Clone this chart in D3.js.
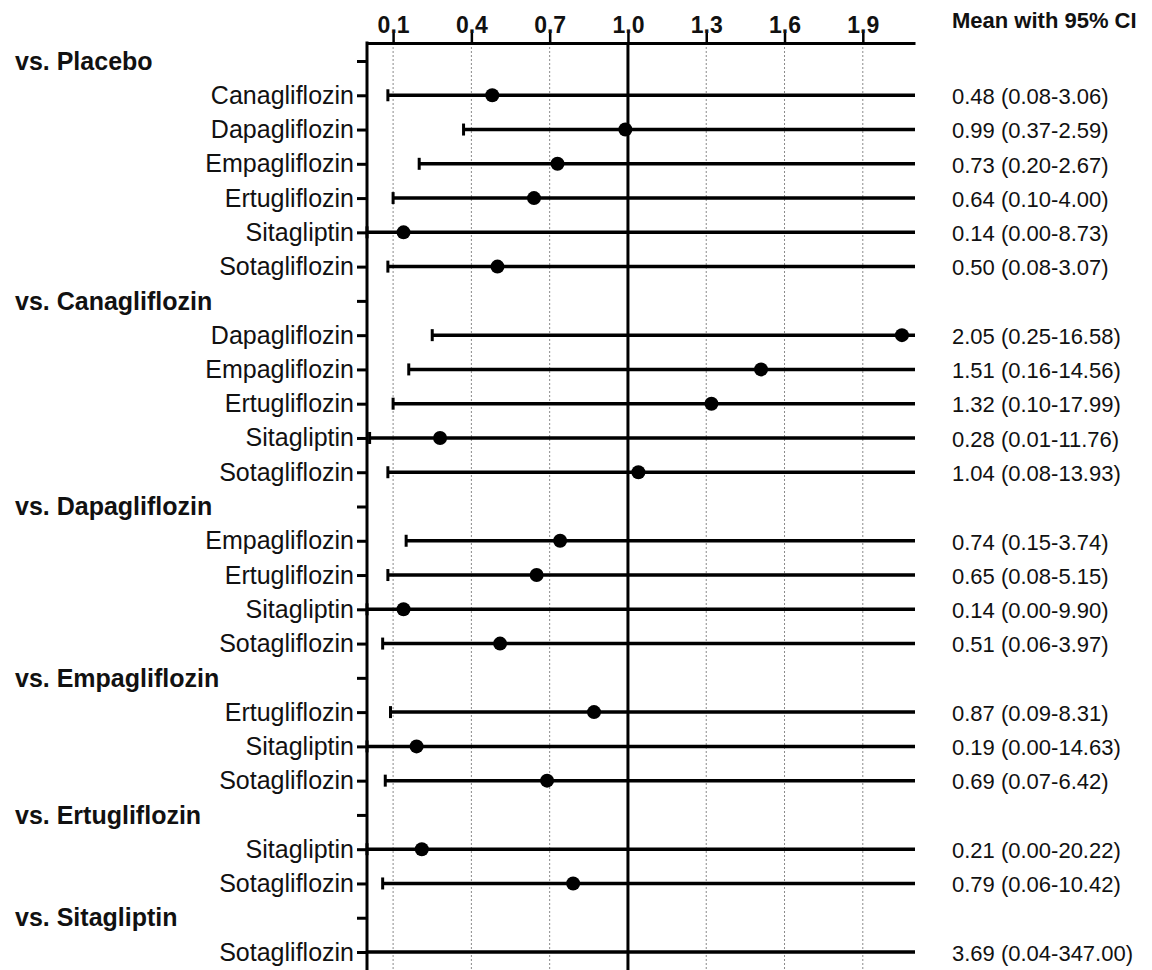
<!DOCTYPE html>
<html>
<head>
<meta charset="utf-8">
<script src="https://cdn.jsdelivr.net/npm/d3@7"></script>
<style>
  body { margin: 0; background: #fff; }
  svg { display: block; font-family: "Liberation Sans", Arial, sans-serif; }
</style>
</head>
<body>
<script>
// comparisons, one group per reference drug
var groups = ["vs. Placebo", "vs. Canagliflozin", "vs. Dapagliflozin", "vs. Empagliflozin", "vs. Ertugliflozin", "vs. Sitagliptin"];
var drugs = [
  ["Canagliflozin", "Dapagliflozin", "Empagliflozin", "Ertugliflozin", "Sitagliptin", "Sotagliflozin"],
  ["Dapagliflozin", "Empagliflozin", "Ertugliflozin", "Sitagliptin", "Sotagliflozin"],
  ["Empagliflozin", "Ertugliflozin", "Sitagliptin", "Sotagliflozin"],
  ["Ertugliflozin", "Sitagliptin", "Sotagliflozin"],
  ["Sitagliptin", "Sotagliflozin"],
  ["Sotagliflozin"]
];
var means = [
  [0.48, 0.99, 0.73, 0.64, 0.14, 0.50],
  [2.05, 1.51, 1.32, 0.28, 1.04],
  [0.74, 0.65, 0.14, 0.51],
  [0.87, 0.19, 0.69],
  [0.21, 0.79],
  [3.69]
];
var lower = [
  [0.08, 0.37, 0.20, 0.10, 0.00, 0.08],
  [0.25, 0.16, 0.10, 0.01, 0.08],
  [0.15, 0.08, 0.00, 0.06],
  [0.09, 0.00, 0.07],
  [0.00, 0.06],
  [0.04]
];
var upper = [
  [3.06, 2.59, 2.67, 4.00, 8.73, 3.07],
  [16.58, 14.56, 17.99, 11.76, 13.93],
  [3.74, 5.15, 9.90, 3.97],
  [8.31, 14.63, 6.42],
  [20.22, 10.42],
  [347.00]
];
var xTicks = [0.1, 0.4, 0.7, 1.0, 1.3, 1.6, 1.9];

var width = 1152, height = 970;

// flatten into rows: header row, then one row per drug
var rows = [];
groups.forEach(function(g, gi) {
  rows.push({id: "g" + gi, header: true, label: g});
  drugs[gi].forEach(function(d, di) {
    rows.push({id: "g" + gi + "d" + di, header: false, label: d,
      mean: means[gi][di], lo: lower[gi][di], hi: upper[gi][di]});
  });
});

var svg = d3.select("body").append("svg")
    .attr("width", width).attr("height", height);

var xMax = 2.1;
var x = d3.scaleLinear().domain([0, xMax]).range([367, 915]);
var y = d3.scalePoint().domain(rows.map(function(r) { return r.id; })).range([61, 952]);
var plotTop = 43, plotBottom = 970;

// gridlines
svg.append("g").selectAll("line")
  .data(xTicks.filter(function(t) { return t != 1.0; }))
  .enter().append("line")
  .attr("x1", function(d) { return x(d); }).attr("x2", function(d) { return x(d); })
  .attr("y1", plotTop).attr("y2", plotBottom)
  .attr("stroke", "#8a8a8a").attr("stroke-width", 1).attr("stroke-dasharray", "2,2");

// line of no effect
svg.append("line")
  .attr("x1", x(1)).attr("x2", x(1)).attr("y1", plotTop).attr("y2", plotBottom)
  .attr("stroke", "#000").attr("stroke-width", 3);

// top axis
var xAxis = svg.append("g")
  .attr("transform", "translate(0," + plotTop + ")")
  .call(d3.axisTop(x).tickValues(xTicks).tickFormat(d3.format(".1f")).tickSize(10).tickSizeOuter(0).tickPadding(0));
xAxis.select(".domain").attr("stroke-width", 3).attr("stroke", "#000");
xAxis.selectAll(".tick line").attr("stroke-width", 2.5).attr("stroke", "#000");
xAxis.selectAll(".tick text").attr("font-size", 23).attr("font-weight", "bold")
  .attr("font-family", "Liberation Sans, Arial, sans-serif").attr("fill", "#111");

// left axis
var yAxis = svg.append("g")
  .attr("transform", "translate(" + x(0) + ",0)")
  .call(d3.axisLeft(y).tickSize(10).tickPadding(3)
    .tickFormat(function(id) {
      var r = rows.find(function(r) { return r.id == id; });
      return r.header ? "" : r.label;
    }));
yAxis.select(".domain").remove();
yAxis.selectAll(".tick line").attr("stroke-width", 3).attr("stroke", "#000");
yAxis.selectAll(".tick text").attr("font-size", 25)
  .attr("font-family", "Liberation Sans, Arial, sans-serif").attr("fill", "#111");
svg.append("line")
  .attr("x1", x(0)).attr("x2", x(0)).attr("y1", plotTop - 1.5).attr("y2", plotBottom)
  .attr("stroke", "#000").attr("stroke-width", 3);

// group headers
svg.append("g").selectAll("text")
  .data(rows.filter(function(r) { return r.header; }))
  .enter().append("text")
  .attr("x", 15).attr("y", function(d) { return y(d.id); })
  .attr("dy", "0.35em")
  .attr("font-size", 25).attr("font-weight", "bold").attr("fill", "#111")
  .text(function(d) { return d.label; });

var items = rows.filter(function(r) { return !r.header; });
var clamp = function(v) { return Math.min(Math.max(v, 0), xMax); };
var onScale = function(d) { return d.mean <= xMax; };

var bars = svg.append("g").selectAll("g").data(items).enter().append("g");
// whole bar runs across the plot when the mean is off scale
bars.append("line")
  .attr("x1", function(d) { return onScale(d) ? x(clamp(d.lo)) : x(0); })
  .attr("x2", function(d) { return x(clamp(d.hi)); })
  .attr("y1", function(d) { return y(d.id); }).attr("y2", function(d) { return y(d.id); })
  .attr("stroke", "#000").attr("stroke-width", 3.5);
bars.filter(onScale).append("line")
  .attr("x1", function(d) { return x(d.lo); }).attr("x2", function(d) { return x(d.lo); })
  .attr("y1", function(d) { return y(d.id) - 6; }).attr("y2", function(d) { return y(d.id) + 6; })
  .attr("stroke", "#000").attr("stroke-width", 3);
bars.filter(onScale).append("circle")
  .attr("cx", function(d) { return x(d.mean); })
  .attr("cy", function(d) { return y(d.id); })
  .attr("r", 7).attr("fill", "#000");

// right column
svg.append("text")
  .attr("x", 952).attr("y", 28)
  .attr("font-size", 22).attr("font-weight", "bold").attr("fill", "#111")
  .text("Mean with 95% CI");

var f = d3.format(".2f");
svg.append("g").selectAll("text").data(items).enter().append("text")
  .attr("x", 952).attr("y", function(d) { return y(d.id); })
  .attr("dy", "0.4em")
  .attr("font-size", 22).attr("fill", "#111")
  .text(function(d) { return f(d.mean) + " (" + f(d.lo) + "-" + f(d.hi) + ")"; });
</script>
</body>
</html>
